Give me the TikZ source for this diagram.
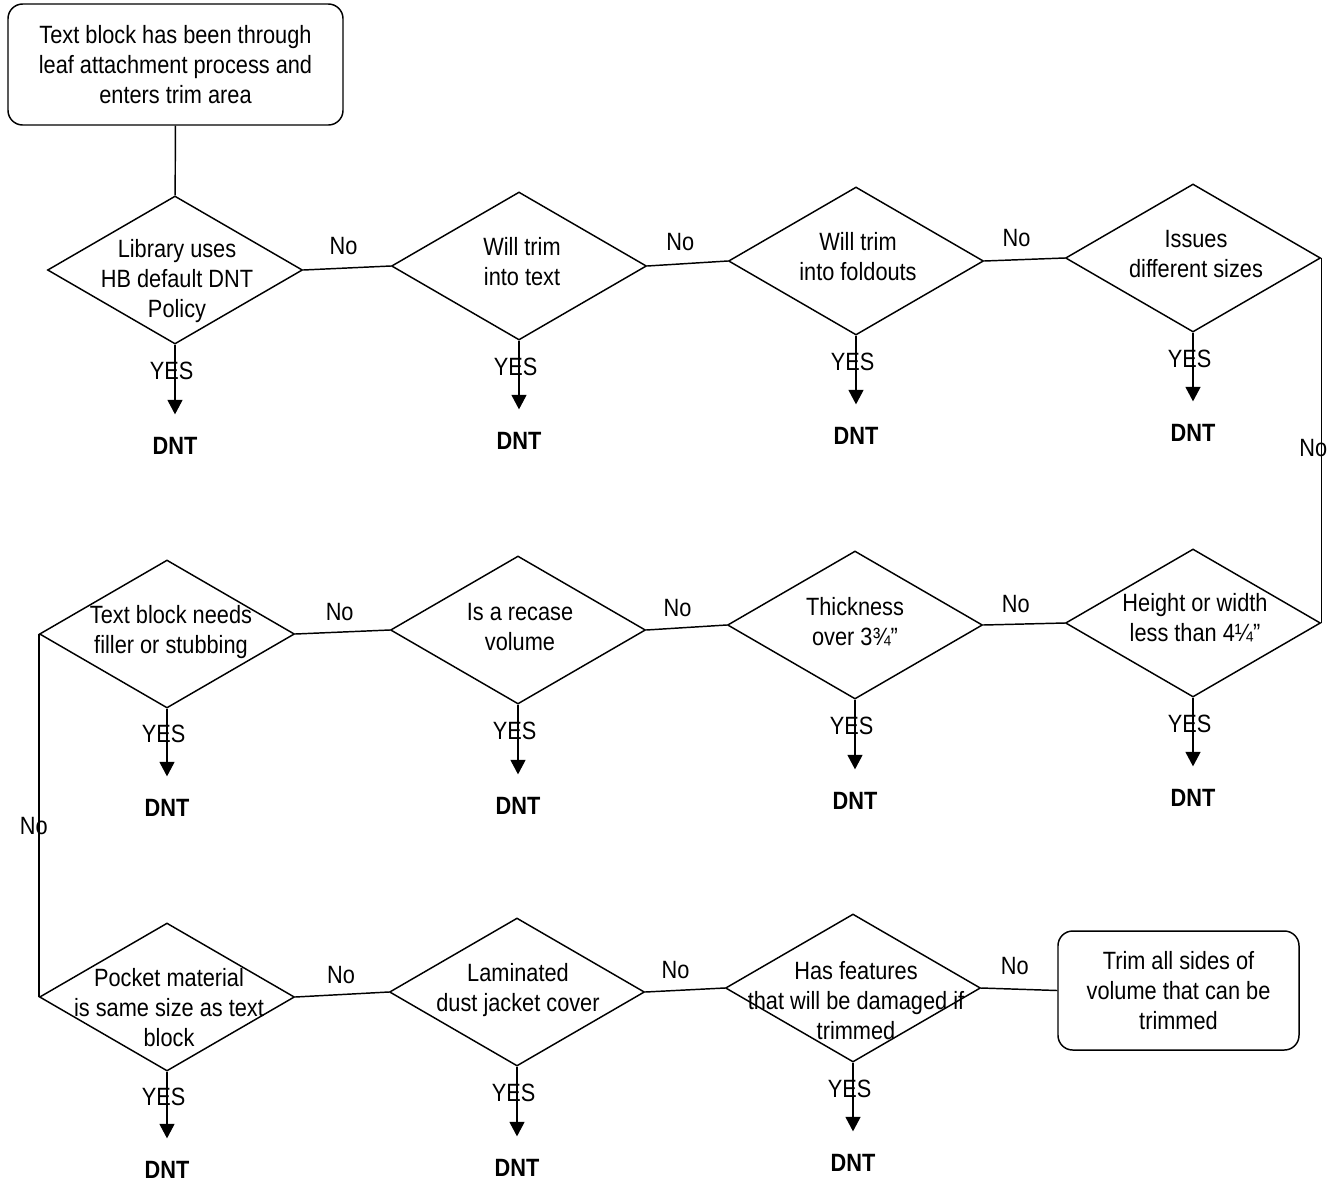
\documentclass[tikz,border=0pt]{standalone}
\usepackage{fontspec}
\setmainfont{Liberation Sans}[FakeStretch=0.87]
\usetikzlibrary{shapes.geometric,arrows.meta}

\begin{document}
\begin{tikzpicture}[x=0.75pt,y=0.75pt,yscale=-1,xscale=1,
  every node/.style={font=\fontsize{18.75}{22.5}\selectfont},
  decision/.style={draw, diamond, line width=1.1pt, minimum width=191.25pt, minimum height=111pt, inner sep=0pt},
  termbox/.style={draw, rounded corners=11pt, line width=1.1pt, align=center, inner sep=0.75pt},
  qtext/.style={align=center, inner sep=0.75pt},
  dnt/.style={font=\fontsize{18.75}{22.5}\selectfont\bfseries, inner sep=2pt},
  yesarrow/.style={line width=2pt, -{Triangle[length=11pt,width=11pt]}, shorten >=15pt},
  noline/.style={line width=1.1pt},
  nolbl/.style={inner sep=0.75pt}
]
\useasboundingbox (0,0) rectangle (1334,1186);

%Shape: Rounded Rectangle
\node[termbox, minimum width=251.25pt, minimum height=90.75pt] (start) at (175.5,64.5) {Text block has been through\\leaf attachment process and\\enters trim area};
%Shape: Rounded Rectangle
\node[termbox, minimum width=180.75pt, minimum height=89.25pt] (trim) at (1178.5,990.5) {Trim all sides of\\volume that can be\\trimmed};

%Shape: Diamond
\node[decision] (d1) at (175,270) {};
\node[decision] (d2) at (519,266) {};
\node[decision] (d3) at (856,261) {};
\node[decision] (d4) at (1193,258) {};
\node[decision] (d5) at (1193,623) {};
\node[decision] (d6) at (855,625) {};
\node[decision] (d7) at (518,630) {};
\node[decision] (d8) at (167,634) {};
\node[decision] (d9) at (167,997) {};
\node[decision] (d10) at (517,992) {};
\node[decision] (d11) at (853,988) {};

% Text Node
\node[qtext] (q1) at (177,281) {Library uses\\HB default DNT\\Policy};
\node[qtext] (q2) at (522,262) {Will trim\\into text};
\node[qtext] (q3) at (858,257) {Will trim\\into foldouts};
\node[qtext] (q4) at (1196,254) {Issues\\different sizes};
\node[qtext] (q5) at (1195,618) {Height or width\\less than 4¼”};
\node[qtext] (q6) at (855,622) {Thickness\\over 3¾”};
\node[qtext] (q7) at (520,627) {Is a recase\\volume};
\node[qtext] (q8) at (171,632) {Text block needs\\filler or stubbing};
\node[qtext] (q9) at (169,1008) {Pocket material\\is same size as text\\block};
\node[qtext] (q10) at (518,990) {Laminated\\dust jacket cover};
\node[qtext] (q11) at (856,1001) {Has features\\that will be damaged if\\trimmed};

% Text Node
\node[dnt] (t1) at (175,446) {DNT};
\node[dnt] (t2) at (519,441) {DNT};
\node[dnt] (t3) at (856,436) {DNT};
\node[dnt] (t4) at (1193,433) {DNT};
\node[dnt] (t5) at (1193,798) {DNT};
\node[dnt] (t6) at (855,801) {DNT};
\node[dnt] (t7) at (518,806) {DNT};
\node[dnt] (t8) at (167,808) {DNT};
\node[dnt] (t9) at (167,1170) {DNT};
\node[dnt] (t10) at (517,1168) {DNT};
\node[dnt] (t11) at (853,1163) {DNT};

%Straight Lines
\draw[noline] (start) -- (d1);
\foreach \i in {1,...,11}{
  \draw[yesarrow] (d\i.south) -- node[nolbl, pos=0.29, xshift=-2.5pt] {YES} (t\i.north);
}

%Straight Lines
\draw[noline] (d1.east) -- node[nolbl, pos=0.46, yshift=16.5pt] {No} (d2.west);
\draw[noline] (d2.east) -- node[nolbl, pos=0.41, yshift=16.5pt] {No} (d3.west);
\draw[noline] (d3.east) -- node[nolbl, pos=0.40, yshift=16.5pt] {No} (d4.west);
\draw[noline] (d4.east) -- node[nolbl, pos=0.52, xshift=-6pt] {No} (d5.east);
\draw[noline] (d5.west) -- node[nolbl, pos=0.60, yshift=15pt] {No} (d6.east);
\draw[noline] (d6.west) -- node[nolbl, pos=0.61, yshift=15pt] {No} (d7.east);
\draw[noline] (d7.west) -- node[nolbl, pos=0.53, yshift=15pt] {No} (d8.east);
\draw[noline] (d8.west) -- node[nolbl, pos=0.53, xshift=-3.75pt] {No} (d9.west);
\draw[noline] (d9.east) -- node[nolbl, pos=0.49, yshift=15pt] {No} (d10.west);
\draw[noline] (d10.east) -- node[nolbl, pos=0.38, yshift=15pt] {No} (d11.west);
\draw[noline] (d11.east) -- node[nolbl, pos=0.44, yshift=17pt] {No} (trim.west);
\end{tikzpicture}
\end{document}
